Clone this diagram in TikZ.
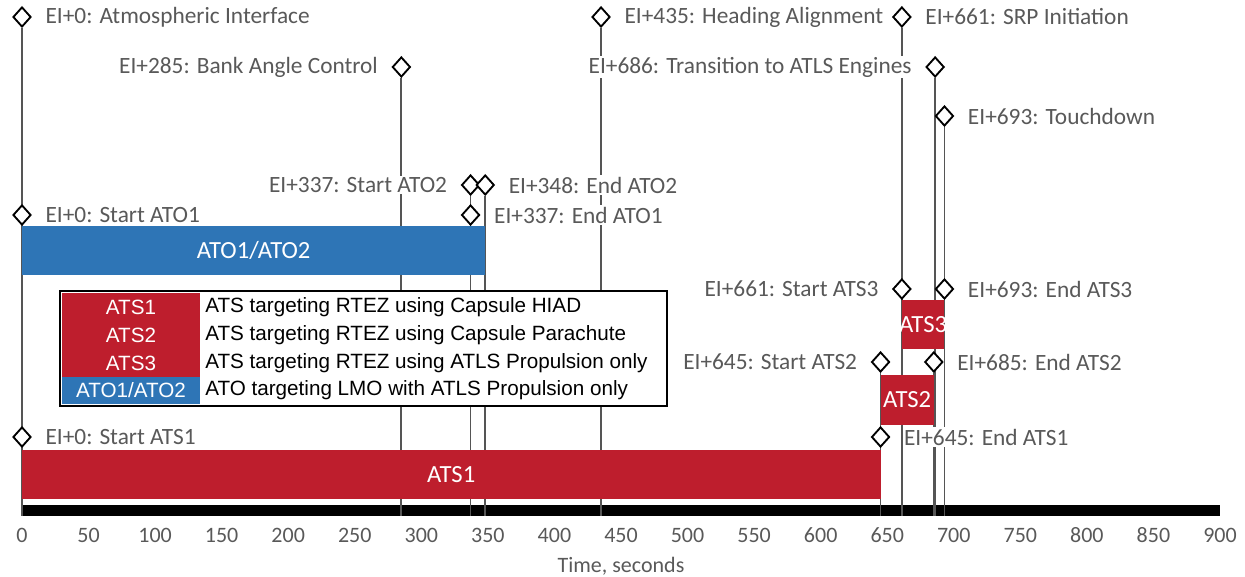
\documentclass[tikz,border=0pt]{standalone}
\usepackage{fontspec}
\setmainfont{Carlito}
\newfontfamily\legendfont{Liberation Sans}
\usetikzlibrary{shapes.geometric,positioning,backgrounds}
\definecolor{atsred}{RGB}{190,30,45}
\definecolor{atoblue}{RGB}{46,117,182}
\definecolor{txtgray}{RGB}{89,89,89}
\definecolor{linegray}{RGB}{85,85,85}
% seconds -> horizontal position
\newcommand{\ts}[1]{\fpeval{round(22+1.3311*(#1),2)}}

\begin{document}
\begin{tikzpicture}[x=0.75pt, y=-0.75pt,
    event/.style={diamond, draw=black, line width=1.4pt, fill=white, inner sep=0pt, minimum width=13.5pt, minimum height=15pt},
    evlbl/.style={fill=white, inner sep=1pt, text=txtgray, font=\fontsize{17.5}{19}\selectfont},
    vline/.style={draw=linegray, line width=1.3pt},
    barlbl/.style={text=white, inner sep=0pt, font=\fontsize{18.5}{20}\selectfont},
    ticklbl/.style={text=txtgray, font=\fontsize{16.5}{18}\selectfont},
    legtxt/.style={inner sep=0pt, font=\legendfont\fontsize{15.5}{17}\selectfont}
]
\useasboundingbox (0,0) rectangle (1245,577);
\coordinate (axis) at (0,516);

% Milestones (top to bottom)
\node[event] (ei) at (\ts{0},17) {};
\node[evlbl, right=9pt of ei] (eilbl) {EI+0: Atmospheric Interface};
\node[event] (heading) at (\ts{435},17) {};
\node[evlbl, right=9pt of heading] (headinglbl) {EI+435: Heading Alignment};
\node[event] (srp) at (\ts{661},17) {};
\node[evlbl, right=9pt of srp] (srplbl) {EI+661: SRP Initiation};
\node[event] (bank) at (\ts{285},67) {};
\node[evlbl, left=9pt of bank] (banklbl) {EI+285: Bank Angle Control};
\node[event] (trans) at (\ts{686},67) {};
\node[evlbl, left=9pt of trans] (translbl) {EI+686: Transition to ATLS Engines};
\node[event] (touch) at (\ts{693},116) {};
\node[evlbl, right=9pt of touch] (touchlbl) {EI+693: Touchdown};

% ATO milestones
\node[event] (atoBstart) at (\ts{337},185) {};
\node[evlbl, left=9pt of atoBstart] (atoBstartlbl) {EI+337: Start ATO2};
\node[event] (atoBend) at (\ts{348},185) {};
\node[evlbl, right=9pt of atoBend] (atoBendlbl) {EI+348: End ATO2};
\node[event] (atoAstart) at (\ts{0},215) {};
\node[evlbl, right=9pt of atoAstart] (atoAstartlbl) {EI+0: Start ATO1};
\node[event] (atoAend) at (\ts{337},215) {};
\node[evlbl, right=9pt of atoAend] (atoAendlbl) {EI+337: End ATO1};

% ATS milestones
\node[event] (atsCstart) at (\ts{661},289) {};
\node[evlbl, left=9pt of atsCstart] (atsCstartlbl) {EI+661: Start ATS3};
\node[event] (atsCend) at (\ts{693},289) {};
\node[evlbl, right=9pt of atsCend] (atsCendlbl) {EI+693: End ATS3};
\node[event] (atsBstart) at (\ts{645},362) {};
\node[evlbl, left=9pt of atsBstart] (atsBstartlbl) {EI+645: Start ATS2};
\node[event] (atsBend) at (\ts{685},362) {};
\node[evlbl, right=9pt of atsBend] (atsBendlbl) {EI+685: End ATS2};
\node[event] (atsAstart) at (\ts{0},437) {};
\node[evlbl, right=9pt of atsAstart] (atsAstartlbl) {EI+0: Start ATS1};
\node[event] (atsAend) at (\ts{645},437) {};
\node[evlbl, right=9pt of atsAend] (atsAendlbl) {EI+645: End ATS1};

% Legend
\draw[black, line width=0.8pt, fill=white] (60,291) rectangle (667,406);
\fill[atsred] (62,293) rectangle (200,377);
\fill[atoblue] (62,377) rectangle (200,404);
\node[legtxt, text=white] (keyA) at (131,307) {ATS1};
\node[legtxt, text=white] (keyB) at (131,335) {ATS2};
\node[legtxt, text=white] (keyC) at (131,363) {ATS3};
\node[legtxt, text=white] (keyD) at (131,390.5) {ATO1/ATO2};
\node[legtxt, anchor=west] (descA) at (205,307) {ATS targeting RTEZ using Capsule HIAD};
\node[legtxt, anchor=west] (descB) at (205,335) {ATS targeting RTEZ using Capsule Parachute};
\node[legtxt, anchor=west] (descC) at (205,363) {ATS targeting RTEZ using ATLS Propulsion only};
\node[legtxt, anchor=west] (descD) at (205,390.5) {ATO targeting LMO with ATLS Propulsion only};

% Time axis labels
\foreach \t in {0,50,...,900}
  \node[ticklbl] (tk\t) at (\ts{\t},535) {\t};
\node[ticklbl] (xtitle) at (\ts{450},566) {Time, seconds};

\begin{scope}[on background layer]
  \fill[black] (\ts{0},505) rectangle (\ts{900},516);
  % drop lines to the axis
  \foreach \ev in {ei,heading,srp,bank,trans,touch,atoBstart,atoBend,atsBstart,atsBend}
    \draw[vline] (\ev) -- (\ev |- axis);
  % phase bars
  \fill[atoblue] (\ts{0},226) rectangle (\ts{348},275);
  \node[barlbl] (atobar) at (\ts{174},250.5) {ATO1/ATO2};
  \fill[atsred] (\ts{0},450) rectangle (\ts{645},499);
  \node[barlbl] (atsAbar) at (\ts{322.5},474.5) {ATS1};
  \fill[atsred] (\ts{645},375) rectangle (\ts{685},425);
  \node[barlbl] (atsBbar) at (\ts{665},400) {ATS2};
  \fill[atsred] (\ts{661},300) rectangle (\ts{693},349);
  \node[barlbl] (atsCbar) at (\ts{677},324.5) {ATS3};
\end{scope}
\end{tikzpicture}
\end{document}
